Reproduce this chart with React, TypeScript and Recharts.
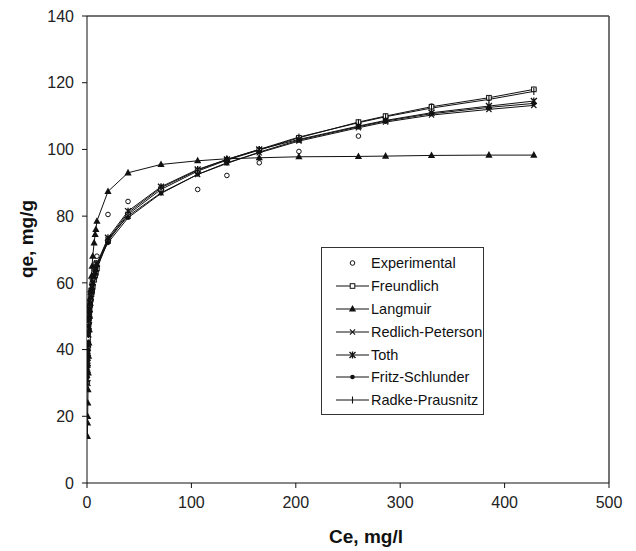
import { LineChart, Line, XAxis, YAxis, Label, ReferenceLine } from "recharts"

const ce = [
  0.42, 0.55, 0.63, 0.8, 0.97, 1.26, 1.55, 1.85, 2.2, 2.5, 3.0, 3.6, 4.3, 4.9, 5.5, 6.8, 7.8, 8.5, 9.5,
  20.1, 39.3, 70.9, 106, 134, 165, 203, 260, 286, 330, 385, 428,
]
const experimental = [
  30, 33, 36, 41, 43, 45, 47, 50, 51, 53, 55, 57, 58, 60, 62, 64, 65, 66, 68,
  80.5, 84.4, 88.5, 88, 92.2, 96, 99.4, 104, 108.8, 113, 115.3, 118,
]
const freundlich = [
  39, 40.8, 41.6, 43.3, 44.6, 46.5, 48.1, 49.4, 50.8, 52, 53.4, 55, 56.6, 57.7, 58.9, 60.9, 62.2, 63, 64.3,
  72.5, 80.5, 88, 93.5, 96.8, 99.8, 103.5, 108.2, 110, 112.8, 115.5, 118,
]
const langmuir = [
  14, 18, 20, 24, 28, 33, 38, 42, 46, 50, 54, 58, 62, 65, 68, 72, 74.5, 76, 78.5,
  87.4, 93, 95.5, 96.6, 97.2, 97.5, 97.8, 97.9, 98, 98.2, 98.3, 98.3,
]
const redlichPeterson = [
  31, 34.5, 36.5, 39.5, 41.5, 44.5, 46.8, 48.5, 50.3, 51.8, 53.6, 55.4, 57.2, 58.5, 59.8, 61.8, 63.2, 64, 65.5,
  73, 80, 87, 92.5, 96, 99, 102.5, 106.5, 108.2, 110.3, 112, 113.2,
]
const toth = [
  30, 34, 36, 39, 41.5, 44.5, 47, 48.8, 50.6, 52.2, 54, 55.8, 57.6, 58.8, 60.2, 62.2, 63.5, 64.4, 65.8,
  73.5, 81.5, 88.8, 94, 97, 100, 103, 107, 108.7, 111, 113, 114.5,
]
const fritzSchlunder = [
  32, 35, 37, 40, 42, 45, 47.2, 49, 50.8, 52.2, 54, 55.6, 57.4, 58.6, 60, 62, 63.4, 64.2, 65.6,
  72, 79.5, 86.8, 92.5, 95.8, 99.2, 102.8, 106.8, 108.5, 110.7, 112.6, 113.8,
]
const radkePrausnitz = [
  33, 36, 37.5, 40, 42, 44.5, 46.5, 48, 49.8, 51, 52.8, 54.5, 56.2, 57.5, 58.8, 60.8, 62.2, 63, 64.5,
  73, 81, 88.5, 93.8, 97, 100, 103.7, 108, 109.8, 112.4, 115, 117.4,
]

const xTicks = [0, 100, 200, 300, 400, 500]
const yTicks = [0, 20, 40, 60, 80, 100, 120, 140]

const data = ce.map((c, i) => ({
  ce: c,
  exp: experimental[i],
  fr: freundlich[i],
  la: langmuir[i],
  rp: redlichPeterson[i],
  to: toth[i],
  fs: fritzSchlunder[i],
  ra: radkePrausnitz[i],
}))

type Kind = "circle" | "square" | "triangle" | "cross" | "star" | "dot" | "plus"

const series: { key: string; name: string; kind: Kind; line: boolean }[] = [
  { key: "exp", name: "Experimental", kind: "circle", line: false },
  { key: "fr", name: "Freundlich", kind: "square", line: true },
  { key: "la", name: "Langmuir", kind: "triangle", line: true },
  { key: "rp", name: "Redlich-Peterson", kind: "cross", line: true },
  { key: "to", name: "Toth", kind: "star", line: true },
  { key: "fs", name: "Fritz-Schlunder", kind: "dot", line: true },
  { key: "ra", name: "Radke-Prausnitz", kind: "plus", line: true },
]

const FONT = "'Liberation Sans', Arial, sans-serif"
const INK = "#111"

function Marker({ kind, cx, cy }: { kind: Kind; cx: number; cy: number }) {
  switch (kind) {
    case "circle":
      return <circle cx={cx} cy={cy} r={2.3} fill="#fff" stroke={INK} strokeWidth={1} />
    case "square":
      return <rect x={cx - 2.3} y={cy - 2.3} width={4.6} height={4.6} fill="#fff" stroke={INK} strokeWidth={1} />
    case "triangle":
      return <path d={`M${cx},${cy - 4} L${cx + 3.6},${cy + 2.6} L${cx - 3.6},${cy + 2.6} Z`} fill={INK} />
    case "cross":
      return (
        <path
          d={`M${cx - 2.6},${cy - 2.6} L${cx + 2.6},${cy + 2.6} M${cx - 2.6},${cy + 2.6} L${cx + 2.6},${cy - 2.6}`}
          stroke={INK}
          strokeWidth={1.1}
        />
      )
    case "star":
      return (
        <path
          d={`M${cx - 3},${cy - 3} L${cx + 3},${cy + 3} M${cx - 3},${cy + 3} L${cx + 3},${cy - 3} M${cx},${cy - 3.5} L${cx},${cy + 3.5}`}
          stroke={INK}
          strokeWidth={1.3}
        />
      )
    case "dot":
      return <circle cx={cx} cy={cy} r={2.3} fill={INK} />
    case "plus":
      return <path d={`M${cx},${cy - 3.5} L${cx},${cy + 3.5}`} stroke={INK} strokeWidth={1.1} />
  }
}

function makeDot(kind: Kind) {
  return (props: any) => {
    const { cx, cy, index } = props
    if (cx == null || cy == null) return <g key={`${kind}-${index}`} />
    return (
      <g key={`${kind}-${index}`}>
        <Marker kind={kind} cx={cx} cy={cy} />
      </g>
    )
  }
}

function LegendBox() {
  return (
    <div
      style={{
        position: "absolute",
        left: 321,
        top: 247,
        width: 163,
        height: 168,
        boxSizing: "border-box",
        border: "1px solid #333",
        background: "#fff",
        paddingTop: 4,
        fontFamily: FONT,
        fontSize: 14.5,
        color: INK,
        whiteSpace: "nowrap",
      }}
    >
      {series.map((s) => (
        <div key={s.key} style={{ display: "flex", alignItems: "center", height: 22.8 }}>
          <svg width={46} height={12} style={{ marginLeft: 2, flex: "none" }}>
            {s.line && <line x1={12} y1={6} x2={45} y2={6} stroke={INK} strokeWidth={1} />}
            <Marker kind={s.kind} cx={28.5} cy={6} />
          </svg>
          <span style={{ marginLeft: 1 }}>{s.name}</span>
        </div>
      ))}
    </div>
  )
}

export default function App() {
  return (
    <div style={{ position: "absolute", left: 0, top: 0, width: 636, height: 551, background: "#fff" }}>
      <LineChart width={636} height={551} data={data} margin={{ top: 16, right: 27, bottom: 0, left: 0 }}>
        <XAxis
          dataKey="ce"
          type="number"
          domain={[0, 500]}
          ticks={xTicks}
          height={68}
          tickSize={5}
          tickMargin={9}
          stroke={INK}
          tick={{ fontSize: 16, fill: "#222", fontFamily: FONT }}
          allowDataOverflow
        >
          <Label
            content={() => (
              <text x={366} y={543} textAnchor="middle" fontFamily={FONT} fontSize={19} fontWeight="bold" fill={INK}>
                Ce, mg/l
              </text>
            )}
          />
        </XAxis>
        <YAxis
          type="number"
          domain={[0, 140]}
          ticks={yTicks}
          width={87}
          tickSize={5}
          tickMargin={8}
          stroke={INK}
          tick={{ fontSize: 16, fill: "#222", fontFamily: FONT }}
        >
          <Label
            content={() => (
              <text
                x={27}
                y={239}
                dy={6}
                transform="rotate(-90 27 239)"
                textAnchor="middle"
                fontFamily={FONT}
                fontSize={19}
                fontWeight="bold"
                fill={INK}
              >
                qe, mg/g
              </text>
            )}
          />
        </YAxis>
        <ReferenceLine y={140} stroke="#444" strokeWidth={1.5} />
        <ReferenceLine x={500} stroke="#444" strokeWidth={1.5} />
        {series.map((s) => (
          <Line
            key={s.key}
            dataKey={s.key}
            name={s.name}
            type="linear"
            stroke={s.line ? INK : "none"}
            strokeWidth={1}
            dot={makeDot(s.kind)}
            activeDot={false}
            isAnimationActive={false}
          />
        ))}
      </LineChart>
      <LegendBox />
    </div>
  )
}
